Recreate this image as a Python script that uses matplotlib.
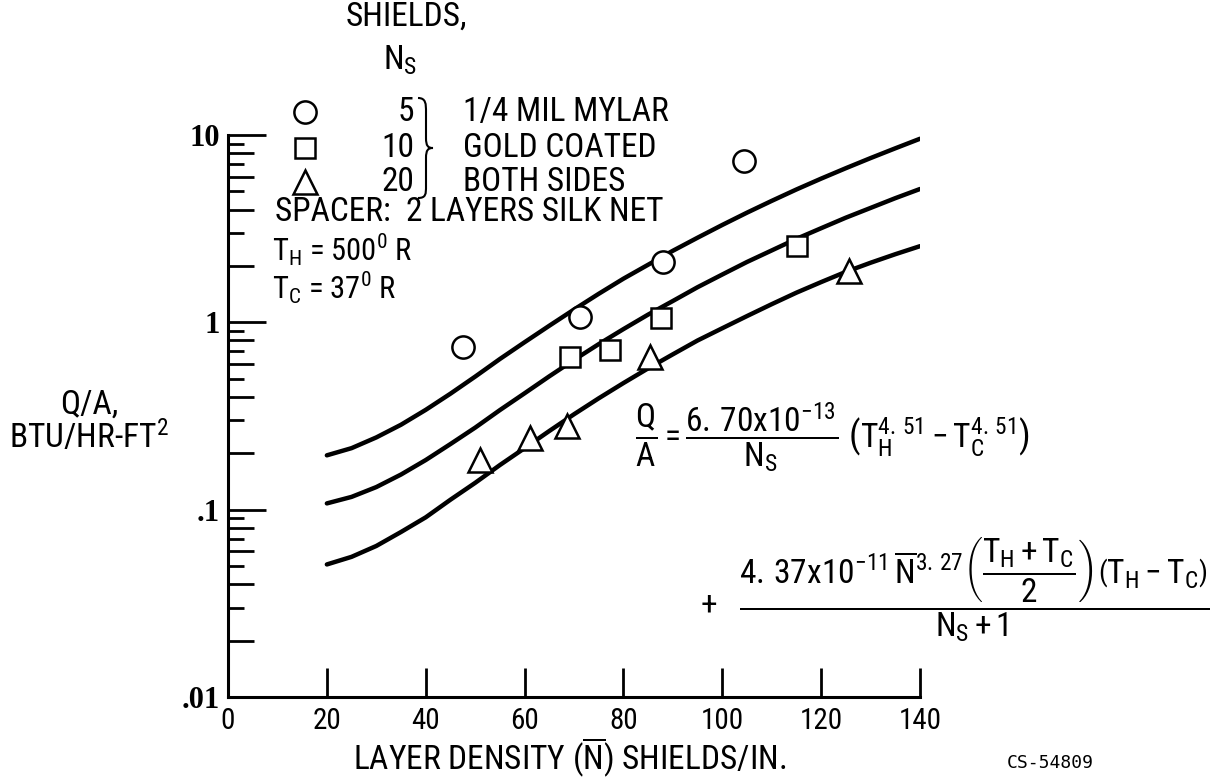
import matplotlib
matplotlib.use("Agg")
import matplotlib.pyplot as plt
from matplotlib import font_manager
from matplotlib.lines import Line2D
from matplotlib.path import Path
from matplotlib.patches import PathPatch
from matplotlib.ticker import LogLocator, NullLocator, NullFormatter

# curves (Q/A vs layer density)
n_curve = [20, 25, 30, 35, 40, 45, 50, 55, 60, 65, 70, 75, 80, 85, 90, 95,
           100, 105, 110, 115, 120, 125, 130, 135, 140]
q_ns5 = [0.195, 0.213, 0.243, 0.284, 0.341, 0.416, 0.513, 0.637, 0.783, 0.959,
         1.17, 1.42, 1.71, 2.03, 2.41, 2.83, 3.31, 3.85, 4.45, 5.12, 5.85,
         6.65, 7.53, 8.49, 9.55]
q_ns10 = [0.108, 0.117, 0.132, 0.154, 0.184, 0.224, 0.274, 0.34, 0.418, 0.515,
          0.63, 0.765, 0.92, 1.10, 1.30, 1.54, 1.80, 2.10, 2.42, 2.79, 3.18,
          3.62, 4.08, 4.60, 5.15]
q_ns20 = [0.051, 0.056, 0.064, 0.076, 0.091, 0.113, 0.139, 0.173, 0.213, 0.263,
          0.323, 0.393, 0.474, 0.568, 0.675, 0.80, 0.93, 1.08, 1.25, 1.44, 1.64,
          1.86, 2.08, 2.31, 2.55]

# test points
n_circle = [47.5, 71.3, 88.1, 104.3]
q_circle = [0.74, 1.07, 2.11, 7.24]
n_square = [69.2, 77.3, 87.6, 115.1]
q_square = [0.654, 0.71, 1.05, 2.54]
n_tri = [51.0, 61.0, 68.6, 85.3, 125.6]
q_tri = [0.185, 0.242, 0.278, 0.65, 1.89]

x_ticks = [0, 20, 40, 60, 80, 100, 120, 140]
y_ticks = [0.01, 0.1, 1, 10]
y_ticklabels = [".01", ".1", "1", "10"]

# pick a narrow sans if one is installed
installed = {f.name for f in font_manager.fontManager.ttflist}
narrow = "DejaVu Sans"
for cand in ["Liberation Sans Narrow", "DejaVu Sans Condensed",
             "Roboto Condensed", "Open Sans Condensed", "Roboto"]:
    if cand in installed:
        narrow = cand
        break

plt.rcParams["font.family"] = [narrow, "DejaVu Sans"]
plt.rcParams["mathtext.fontset"] = "custom"
plt.rcParams["mathtext.rm"] = narrow
plt.rcParams["mathtext.it"] = narrow
plt.rcParams["mathtext.bf"] = narrow + ":bold"
plt.rcParams["mathtext.default"] = "regular"

W, H = 1225, 782
fig = plt.figure(figsize=(12.25, 7.82), dpi=100)


def fx(x):
    return x / W


def fy(y):
    return 1 - y / H


ax = fig.add_axes([fx(228), fy(697), (920 - 228) / W, (697 - 135) / H])
ax.set_yscale("log")
ax.set_xlim(0, 140)
ax.set_ylim(0.01, 10)

for q in (q_ns5, q_ns10, q_ns20):
    ax.plot(n_curve, q, color="black", lw=3.2, solid_capstyle="round")

mk = dict(linestyle="none", mfc="white", mec="black", mew=1.8, zorder=3)
ax.plot(n_circle, q_circle, marker="o", ms=16, **mk)
ax.plot(n_square, q_square, marker="s", ms=15, **mk)
ax.plot(n_tri, q_tri, marker="^", ms=17, **mk)

for s in ("top", "right"):
    ax.spines[s].set_visible(False)
for s in ("left", "bottom"):
    ax.spines[s].set_linewidth(2.2)

ax.set_xticks(x_ticks)
ax.tick_params(axis="x", direction="in", length=21, width=2, pad=7, labelsize=21)
ax.set_yticks(y_ticks, y_ticklabels, fontfamily="Liberation Serif",
              fontweight="bold", fontsize=22)
ax.yaxis.set_minor_locator(LogLocator(base=10, subs=(2, 4, 6, 8)))
ax.yaxis.set_minor_formatter(NullFormatter())
ax.tick_params(axis="y", which="major", direction="in", length=27, width=2, pad=6)
ax.tick_params(axis="y", which="minor", direction="in", length=19, width=2)

# shorter odd minor ticks
sec = ax.secondary_yaxis("left")
sec.yaxis.set_major_locator(NullLocator())
sec.yaxis.set_minor_locator(LogLocator(base=10, subs=(3, 5, 7, 9)))
sec.yaxis.set_minor_formatter(NullFormatter())
sec.tick_params(axis="y", which="minor", direction="in", length=11.5, width=2)
sec.spines["left"].set_visible(False)

fs = 24
fig.text(fx(570), fy(757), r"LAYER DENSITY ($\overline{N}$) SHIELDS/IN.",
         ha="center", va="center", fontsize=fs)
fig.text(fx(89), fy(405), "Q/A,", ha="center", va="center", fontsize=fs)
fig.text(fx(89), fy(437), r"BTU/HR-FT$^2$", ha="center", va="center", fontsize=fs)

# legend block
fig.text(fx(406), fy(17), "SHIELDS,", ha="center", va="center", fontsize=fs)
fig.text(fx(400), fy(60), r"N$_S$", ha="center", va="center", fontsize=fs)
rows = [(112, "o", 16, "5", "1/4 MIL MYLAR"),
        (148, "s", 15, "10", "GOLD COATED"),
        (182, "^", 17, "20", "BOTH SIDES")]
for y, m, ms, num, txt in rows:
    fig.add_artist(Line2D([fx(305)], [fy(y)], marker=m, ms=ms, mfc="white",
                          mec="black", mew=1.8, linestyle="none",
                          transform=fig.transFigure))
    fig.text(fx(414), fy(y), num, ha="right", va="center", fontsize=fs)
    fig.text(fx(463), fy(y), txt, ha="left", va="center", fontsize=fs)

verts = [(418, 98), (426, 98), (426, 104), (426, 112), (426, 138),
         (426, 146), (428, 148), (433, 148), (428, 148), (426, 150),
         (426, 158), (426, 186), (426, 194), (426, 198), (418, 198)]
codes = [Path.MOVETO, Path.CURVE4, Path.CURVE4, Path.CURVE4, Path.LINETO,
         Path.CURVE4, Path.CURVE4, Path.CURVE4, Path.CURVE4, Path.CURVE4,
         Path.CURVE4, Path.LINETO, Path.CURVE4, Path.CURVE4, Path.CURVE4]
brace = Path([(fx(a), fy(b)) for a, b in verts], codes)
fig.add_artist(PathPatch(brace, fill=False, lw=1.5, color="black",
                         transform=fig.transFigure))

fig.text(fx(275), fy(212), "SPACER:  2 LAYERS SILK NET", ha="left", va="center", fontsize=fs)
fig.text(fx(272), fy(250), r"T$_H$ = 500$^0$ R", ha="left", va="center", fontsize=22)
fig.text(fx(272), fy(288), r"T$_C$ = 37$^0$ R", ha="left", va="center", fontsize=22)

# correlation
fig.text(fx(635), fy(437),
         r"$\dfrac{Q}{A} = \dfrac{6.\,70\mathrm{x}10^{-13}}{N_S}\ \left(T_H^{4.\,51} - T_C^{4.\,51}\right)$",
         ha="left", va="center", fontsize=24)
fig.text(fx(709), fy(605), "+", ha="center", va="center", fontsize=24)
fig.text(fx(974), fy(590),
         r"$\dfrac{4.\,37\mathrm{x}10^{-11}\,\overline{N}^{3.\,27}\left(\dfrac{T_H + T_C}{2}\right)\left(T_H - T_C\right)}{N_S + 1}$",
         ha="center", va="center", fontsize=24)

fig.text(fx(1050), fy(763), "CS-54809", ha="center", va="center",
         fontsize=13, family="DejaVu Sans Mono")

fig.savefig("out.png", dpi=100)
